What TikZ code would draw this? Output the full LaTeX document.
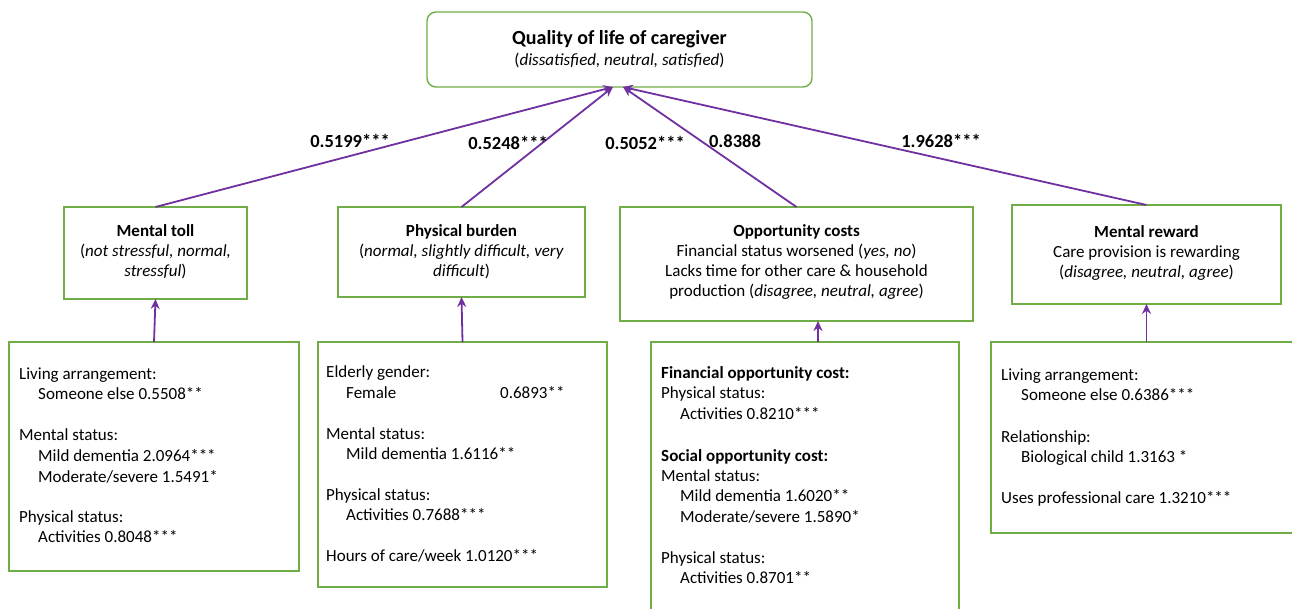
\documentclass[tikz,border=0pt]{standalone}
\usepackage{fontspec}
\setmainfont{Carlito}
\usetikzlibrary{arrows.meta}
\definecolor{grn}{RGB}{112,173,71}
\definecolor{pur}{RGB}{112,48,160}
\begin{document}
\begin{tikzpicture}[x=1pt,y=-1pt,
  box/.style={draw=grn,line width=1.4pt,inner sep=0pt,outer sep=0pt},
  tbox/.style={box,rounded corners=9pt},
  txt/.style={font=\fontsize{17}{20}\selectfont,inner sep=0pt,anchor=base west},
  ctr/.style={font=\fontsize{17}{20}\selectfont,inner sep=0pt,anchor=base},
  hdr/.style={font=\fontsize{17}{20}\selectfont\bfseries,inner sep=0pt,anchor=base},
  lab/.style={font=\fontsize{18.5}{20}\selectfont\bfseries,inner sep=0pt},
  arr/.style={draw=pur,line width=1.8pt,-{Stealth[length=10pt,width=9pt]}}]
\useasboundingbox (0,0) rectangle (1292,609);
\clip (0,0) rectangle (1292,609);
% boxes
\node[tbox,minimum width=385pt,minimum height=75pt] (top) at (619.5,49.5) {};
\node[box,minimum width=183pt,minimum height=92pt] (mt) at (155.5,253) {};
\node[box,minimum width=247pt,minimum height=90pt] (pb) at (461.5,252) {};
\node[box,minimum width=353pt,minimum height=114pt] (oc) at (796.5,264) {};
\node[box,minimum width=269pt,minimum height=99pt] (mr) at (1146.5,254.5) {};
\node[box,minimum width=290pt,minimum height=229pt] (b1) at (154,456.5) {};
\node[box,minimum width=289pt,minimum height=245pt] (b2) at (462.5,464.5) {};
\node[box,minimum width=308pt,minimum height=280pt] (b3) at (805,482) {};
\node[box,minimum width=309pt,minimum height=191pt] (b4) at (1145.5,437.5) {};
% top text
\node[font=\fontsize{20}{24}\selectfont\bfseries,inner sep=0pt,anchor=base] (tt1) at (619.5,45) {Quality of life of caregiver};
\node[ctr] (tt2) at (619.5,66) {(\textit{dissatisfied, neutral, satisfied})};
% middle texts
\node[hdr] (mt1) at (155.5,237) {Mental toll};
\node[ctr] (mt2) at (155.5,257) {(\textit{not stressful, normal,}};
\node[ctr] (mt3) at (155.5,277) {\textit{stressful})};
\node[hdr] (pb1) at (461.5,237) {Physical burden};
\node[ctr] (pb2) at (461.5,257) {(\textit{normal, slightly difficult, very}};
\node[ctr] (pb3) at (461.5,277) {\textit{difficult})};
\node[hdr] (oc1) at (796.5,237) {Opportunity costs};
\node[ctr] (oc2) at (796.5,257) {Financial status worsened (\textit{yes, no})};
\node[ctr] (oc3) at (796.5,277) {Lacks time for other care \& household};
\node[ctr] (oc4) at (796.5,297) {production (\textit{disagree, neutral, agree})};
\node[hdr] (mr1) at (1146.5,238) {Mental reward};
\node[ctr] (mr2) at (1146.5,258) {Care provision is rewarding};
\node[ctr] (mr3) at (1146.5,278) {(\textit{disagree, neutral, agree})};
% box 1
\node[txt] (a1) at (19,379) {Living arrangement:};
\node[txt] (a2) at (38,399) {Someone else 0.5508**};
\node[txt] (a3) at (19,440) {Mental status:};
\node[txt] (a4) at (38,461) {Mild dementia 2.0964***};
\node[txt] (a5) at (38,482) {Moderate/severe 1.5491*};
\node[txt] (a6) at (19,522) {Physical status:};
\node[txt] (a7) at (38,542) {Activities 0.8048***};
% box 2
\node[txt] (c1) at (326,377) {Elderly gender:};
\node[txt] (c2) at (346,398) {Female};
\node[txt] (c2b) at (500,398) {0.6893**};
\node[txt] (c3) at (326,439) {Mental status:};
\node[txt] (c4) at (346,459) {Mild dementia 1.6116**};
\node[txt] (c5) at (326,500) {Physical status:};
\node[txt] (c6) at (346,520) {Activities 0.7688***};
\node[txt] (c7) at (326,561) {Hours of care/week 1.0120***};
% box 3
\node[txt,font=\fontsize{17}{20}\selectfont\bfseries] (d1) at (661,378) {Financial opportunity cost:};
\node[txt] (d2) at (661,398) {Physical status:};
\node[txt] (d3) at (680,419) {Activities 0.8210***};
\node[txt,font=\fontsize{17}{20}\selectfont\bfseries] (d4) at (661,461) {Social opportunity cost:};
\node[txt] (d5) at (661,481) {Mental status:};
\node[txt] (d6) at (680,501) {Mild dementia 1.6020**};
\node[txt] (d7) at (680,522) {Moderate/severe 1.5890*};
\node[txt] (d8) at (661,563) {Physical status:};
\node[txt] (d9) at (680,583) {Activities 0.8701**};
% box 4
\node[txt] (e1) at (1001,380) {Living arrangement:};
\node[txt] (e2) at (1021,400) {Someone else 0.6386***};
\node[txt] (e3) at (1001,442) {Relationship:};
\node[txt] (e4) at (1021,462) {Biological child 1.3163 *};
\node[txt] (e5) at (1001,503) {Uses professional care 1.3210***};
% arrows to top
\draw[arr] (mt.north) -- ([xshift=-6.5pt]top.south);
\draw[arr] (pb.north) -- ([xshift=-6.5pt]top.south);
\draw[arr] (oc.north) -- ([xshift=3.5pt]top.south);
\draw[arr] (mr.north) -- ([xshift=3.5pt]top.south);
% arrows from bottom boxes
\draw[arr] (b1.north) -- (mt.south);
\draw[arr] (b2.north) -- (pb.south);
\draw[arr] ([xshift=13pt]b3.north) -- ([xshift=21.5pt]oc.south);
\draw[arr] (b4.north -| mr.south) -- (mr.south);
% labels
\node[lab] (l1) at (350,141) {0.5199***};
\node[lab] (l2) at (508,143) {0.5248***};
\node[lab] (l3) at (645,143) {0.5052***};
\node[lab] (l4) at (735,141) {0.8388};
\node[lab] (l5) at (941,141) {1.9628***};
\end{tikzpicture}
\end{document}
